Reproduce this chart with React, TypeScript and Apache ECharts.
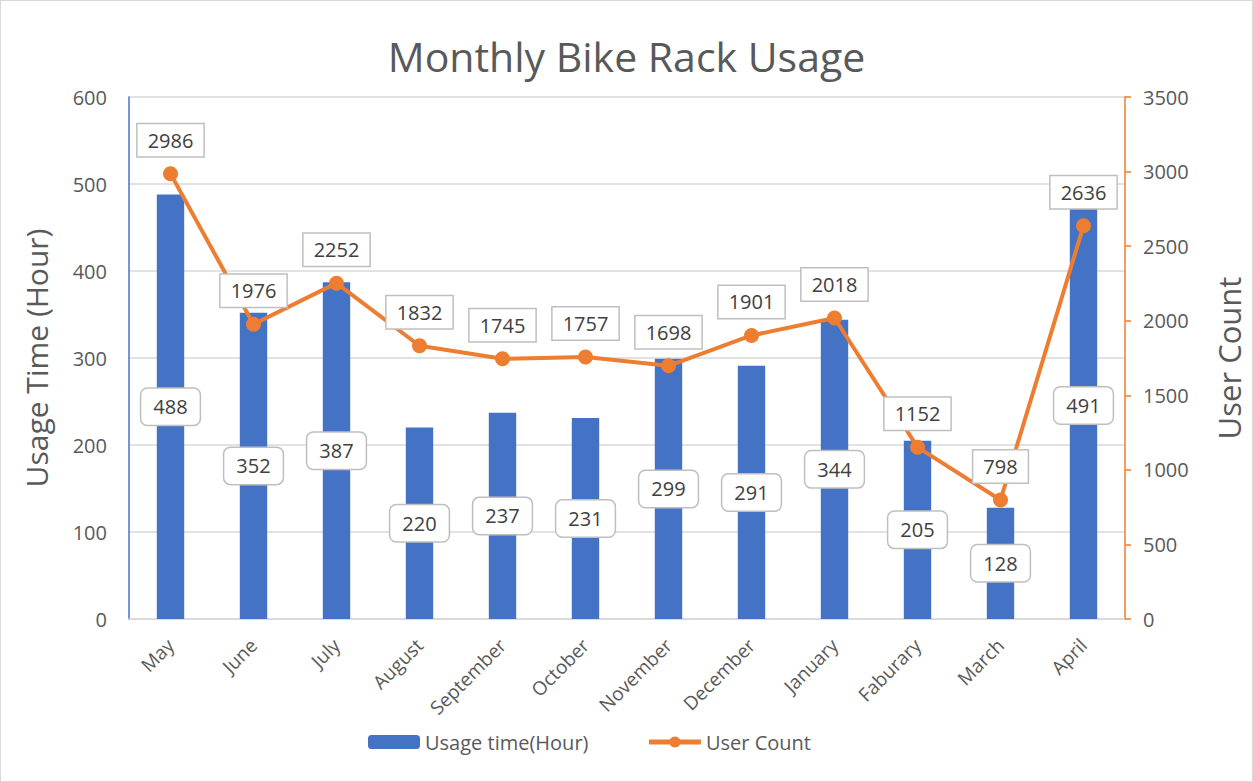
import React, { useEffect, useRef } from "react";
import * as echarts from "echarts";

const categories = ["May", "June", "July", "August", "September", "October", "November", "December", "January", "Faburary", "March", "April"];
const usageHours = [488, 352, 387, 220, 237, 231, 299, 291, 344, 205, 128, 491];
const userCounts = [2986, 1976, 2252, 1832, 1745, 1757, 1698, 1901, 2018, 1152, 798, 2636];

const FONT = "'Open Sans', 'Noto Sans', sans-serif";
const TEXT = "#595959";

export default function App() {
  const ref = useRef<HTMLDivElement>(null);
  useEffect(() => {
    const chart = echarts.init(ref.current!, null, { renderer: "svg" });
    chart.setOption({
      animation: false,
      backgroundColor: "#ffffff",
      textStyle: { fontFamily: FONT },
      title: {
        text: "Monthly Bike Rack Usage",
        left: "center",
        top: 29,
        textStyle: { fontFamily: FONT, fontSize: 41, fontWeight: "normal", color: TEXT },
      },
      grid: { left: 128, right: 115, top: 96, bottom: 162 },
      legend: {
        bottom: 24,
        left: 362,
        itemWidth: 52,
        itemHeight: 14,
        itemGap: 58,
        textStyle: { fontFamily: FONT, fontSize: 20, color: TEXT },
        data: [
          { name: "Usage time(Hour)", itemStyle: { color: "#4472C4" } },
          { name: "User Count", lineStyle: { width: 5, color: "#ED7D31" } },
        ],
      },
      xAxis: {
        type: "category",
        data: categories,
        axisLine: { lineStyle: { color: "#D9D9D9", width: 1.5 } },
        axisTick: { show: false },
        axisLabel: { rotate: 45, fontSize: 19, color: TEXT, fontFamily: FONT, margin: 23 },
      },
      yAxis: [
        {
          type: "value",
          min: 0,
          max: 600,
          interval: 100,
          name: "Usage Time (Hour)",
          nameLocation: "middle",
          nameGap: 78,
          nameTextStyle: { fontSize: 30, color: TEXT, fontFamily: FONT },
          axisLine: { show: true, lineStyle: { color: "#4472C4", width: 1.5 } },
          axisTick: { show: false },
          axisLabel: { fontSize: 20, color: TEXT, fontFamily: FONT, margin: 22 },
          splitLine: { lineStyle: { color: "#D9D9D9", width: 1.5 } },
        },
        {
          type: "value",
          min: 0,
          max: 3500,
          interval: 500,
          name: "User Count",
          nameLocation: "middle",
          nameGap: 88,
          nameRotate: 90,
          nameTextStyle: { fontSize: 31, color: TEXT, fontFamily: FONT },
          axisLine: { show: true, lineStyle: { color: "#ED7D31", width: 1.5 } },
          axisTick: { show: true, length: 6, lineStyle: { color: "#ED7D31", width: 1.5 } },
          axisLabel: { fontSize: 20, color: TEXT, fontFamily: FONT, margin: 18, formatter: (v: number) => String(v) },
          splitLine: { show: false },
        },
      ],
      series: [
        {
          name: "Usage time(Hour)",
          type: "bar",
          yAxisIndex: 0,
          data: usageHours,
          barWidth: "33%",
          itemStyle: { color: "#4472C4" },
          label: {
            show: true,
            position: "inside",
            fontSize: 20,
            color: "#404040",
            fontFamily: FONT,
            backgroundColor: "#ffffff",
            borderColor: "#BFBFBF",
            borderWidth: 1.5,
            borderRadius: 6,
            padding: [8, 12, 8, 12],
          },
        },
        {
          name: "User Count",
          type: "line",
          yAxisIndex: 1,
          data: userCounts,
          symbol: "circle",
          symbolSize: 15,
          lineStyle: { color: "#ED7D31", width: 4 },
          itemStyle: { color: "#ED7D31" },
          label: {
            show: true,
            position: "top",
            distance: 10,
            fontSize: 20,
            color: "#404040",
            fontFamily: FONT,
            backgroundColor: "#ffffff",
            borderColor: "#BFBFBF",
            borderWidth: 1.5,
            borderRadius: 0,
            padding: [6, 10, 6, 10],
          },
        },
      ],
    });
    return () => chart.dispose();
  }, []);
  return (
    <div
      ref={ref}
      style={{
        position: "absolute",
        left: 0,
        top: 0,
        width: 1253,
        height: 782,
        boxSizing: "border-box",
        border: "1px solid #D9D9D9",
      }}
    />
  );
}
